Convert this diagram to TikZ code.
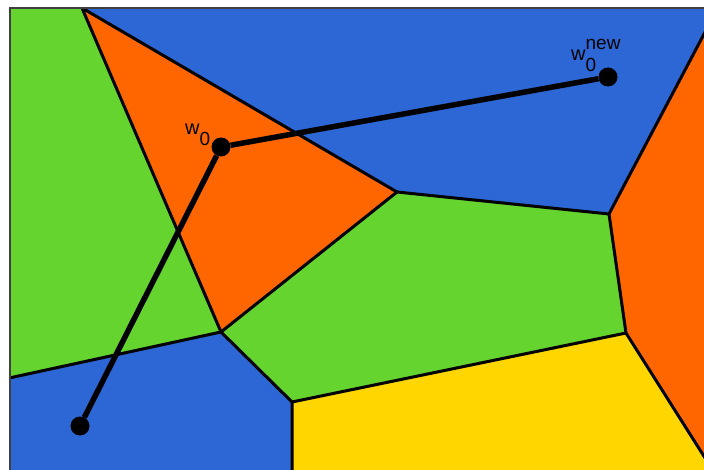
\documentclass[tikz,border=0pt]{standalone}
\usepackage{fontspec}
\setmainfont{Liberation Sans}
\usetikzlibrary{positioning}
\definecolor{cellblue}{HTML}{2C67D5}
\definecolor{cellgreen}{HTML}{66D42E}
\definecolor{cellorange}{HTML}{FF6600}
\definecolor{cellyellow}{HTML}{FFD600}
\tikzstyle{edge} = [line width=3pt, line join=round]
\tikzstyle{walk} = [line width=5.5pt]
\tikzstyle{dot} = [circle, fill=black, inner sep=0pt, minimum size=19pt]
\tikzstyle{wlabel} = [anchor=base west, inner sep=0pt, font=\fontsize{20}{20}\selectfont]
\newcommand{\scr}{\fontsize{19}{19}\selectfont}

\begin{document}
\begin{tikzpicture}[x=1pt,y=-1pt]
    \useasboundingbox (0,0) rectangle (704,470);
    \begin{scope}
        \clip (10,8) rectangle (730,490);
        % cell corners
        \coordinate (A) at (82,8);
        \coordinate (B) at (397,192);
        \coordinate (C) at (221,332);
        \coordinate (D) at (0,380);
        \coordinate (E) at (292,402);
        \coordinate (F) at (292,490);
        \coordinate (G) at (609,214);
        \coordinate (H) at (626,333);
        \coordinate (R1) at (722,0);
        \coordinate (R2) at (719,480);
        % cells
        \fill[cellgreen] (0,0) -- (82,0) -- (A) -- (C) -- (D) -- cycle;
        \fill[cellblue] (82,0) -- (R1) -- (G) -- (B) -- (A) -- cycle;
        \fill[cellorange] (R1) -- (740,0) -- (740,490) -- (R2) -- (H) -- (G) -- cycle;
        \fill[cellorange] (A) -- (B) -- (C) -- cycle;
        \fill[cellgreen] (B) -- (G) -- (H) -- (E) -- (C) -- cycle;
        \fill[cellblue] (D) -- (C) -- (E) -- (F) -- (0,490) -- cycle;
        \fill[cellyellow] (E) -- (H) -- (R2) -- (740,490) -- (F) -- cycle;
        % borders
        \draw[edge] (82,0) -- (A) -- (C) -- (D);
        \draw[edge] (A) -- (B) -- (C) -- (E) -- (F);
        \draw[edge] (B) -- (G) -- (R1);
        \draw[edge] (G) -- (H) -- (R2);
        \draw[edge] (E) -- (H);
    \end{scope}
    \draw[black!75, line width=1.2pt] (10,8) rectangle (740,490);
    % the walk
    \node[dot] (start) at (80,426) {};
    \node[dot] (w0) at (221,147) {};
    \node[dot] (wnew) at (608,77) {};
    \draw[walk] (start) -- (w0) -- (wnew);
    \node[wlabel] (lw0) at (185,135) {w\raisebox{-11pt}{\scr 0}};
    \node[wlabel] (lwnew) at (571,61) {w\raisebox{-11pt}{\rlap{\scr 0}}\raisebox{11pt}{\scr new}};
\end{tikzpicture}
\end{document}
